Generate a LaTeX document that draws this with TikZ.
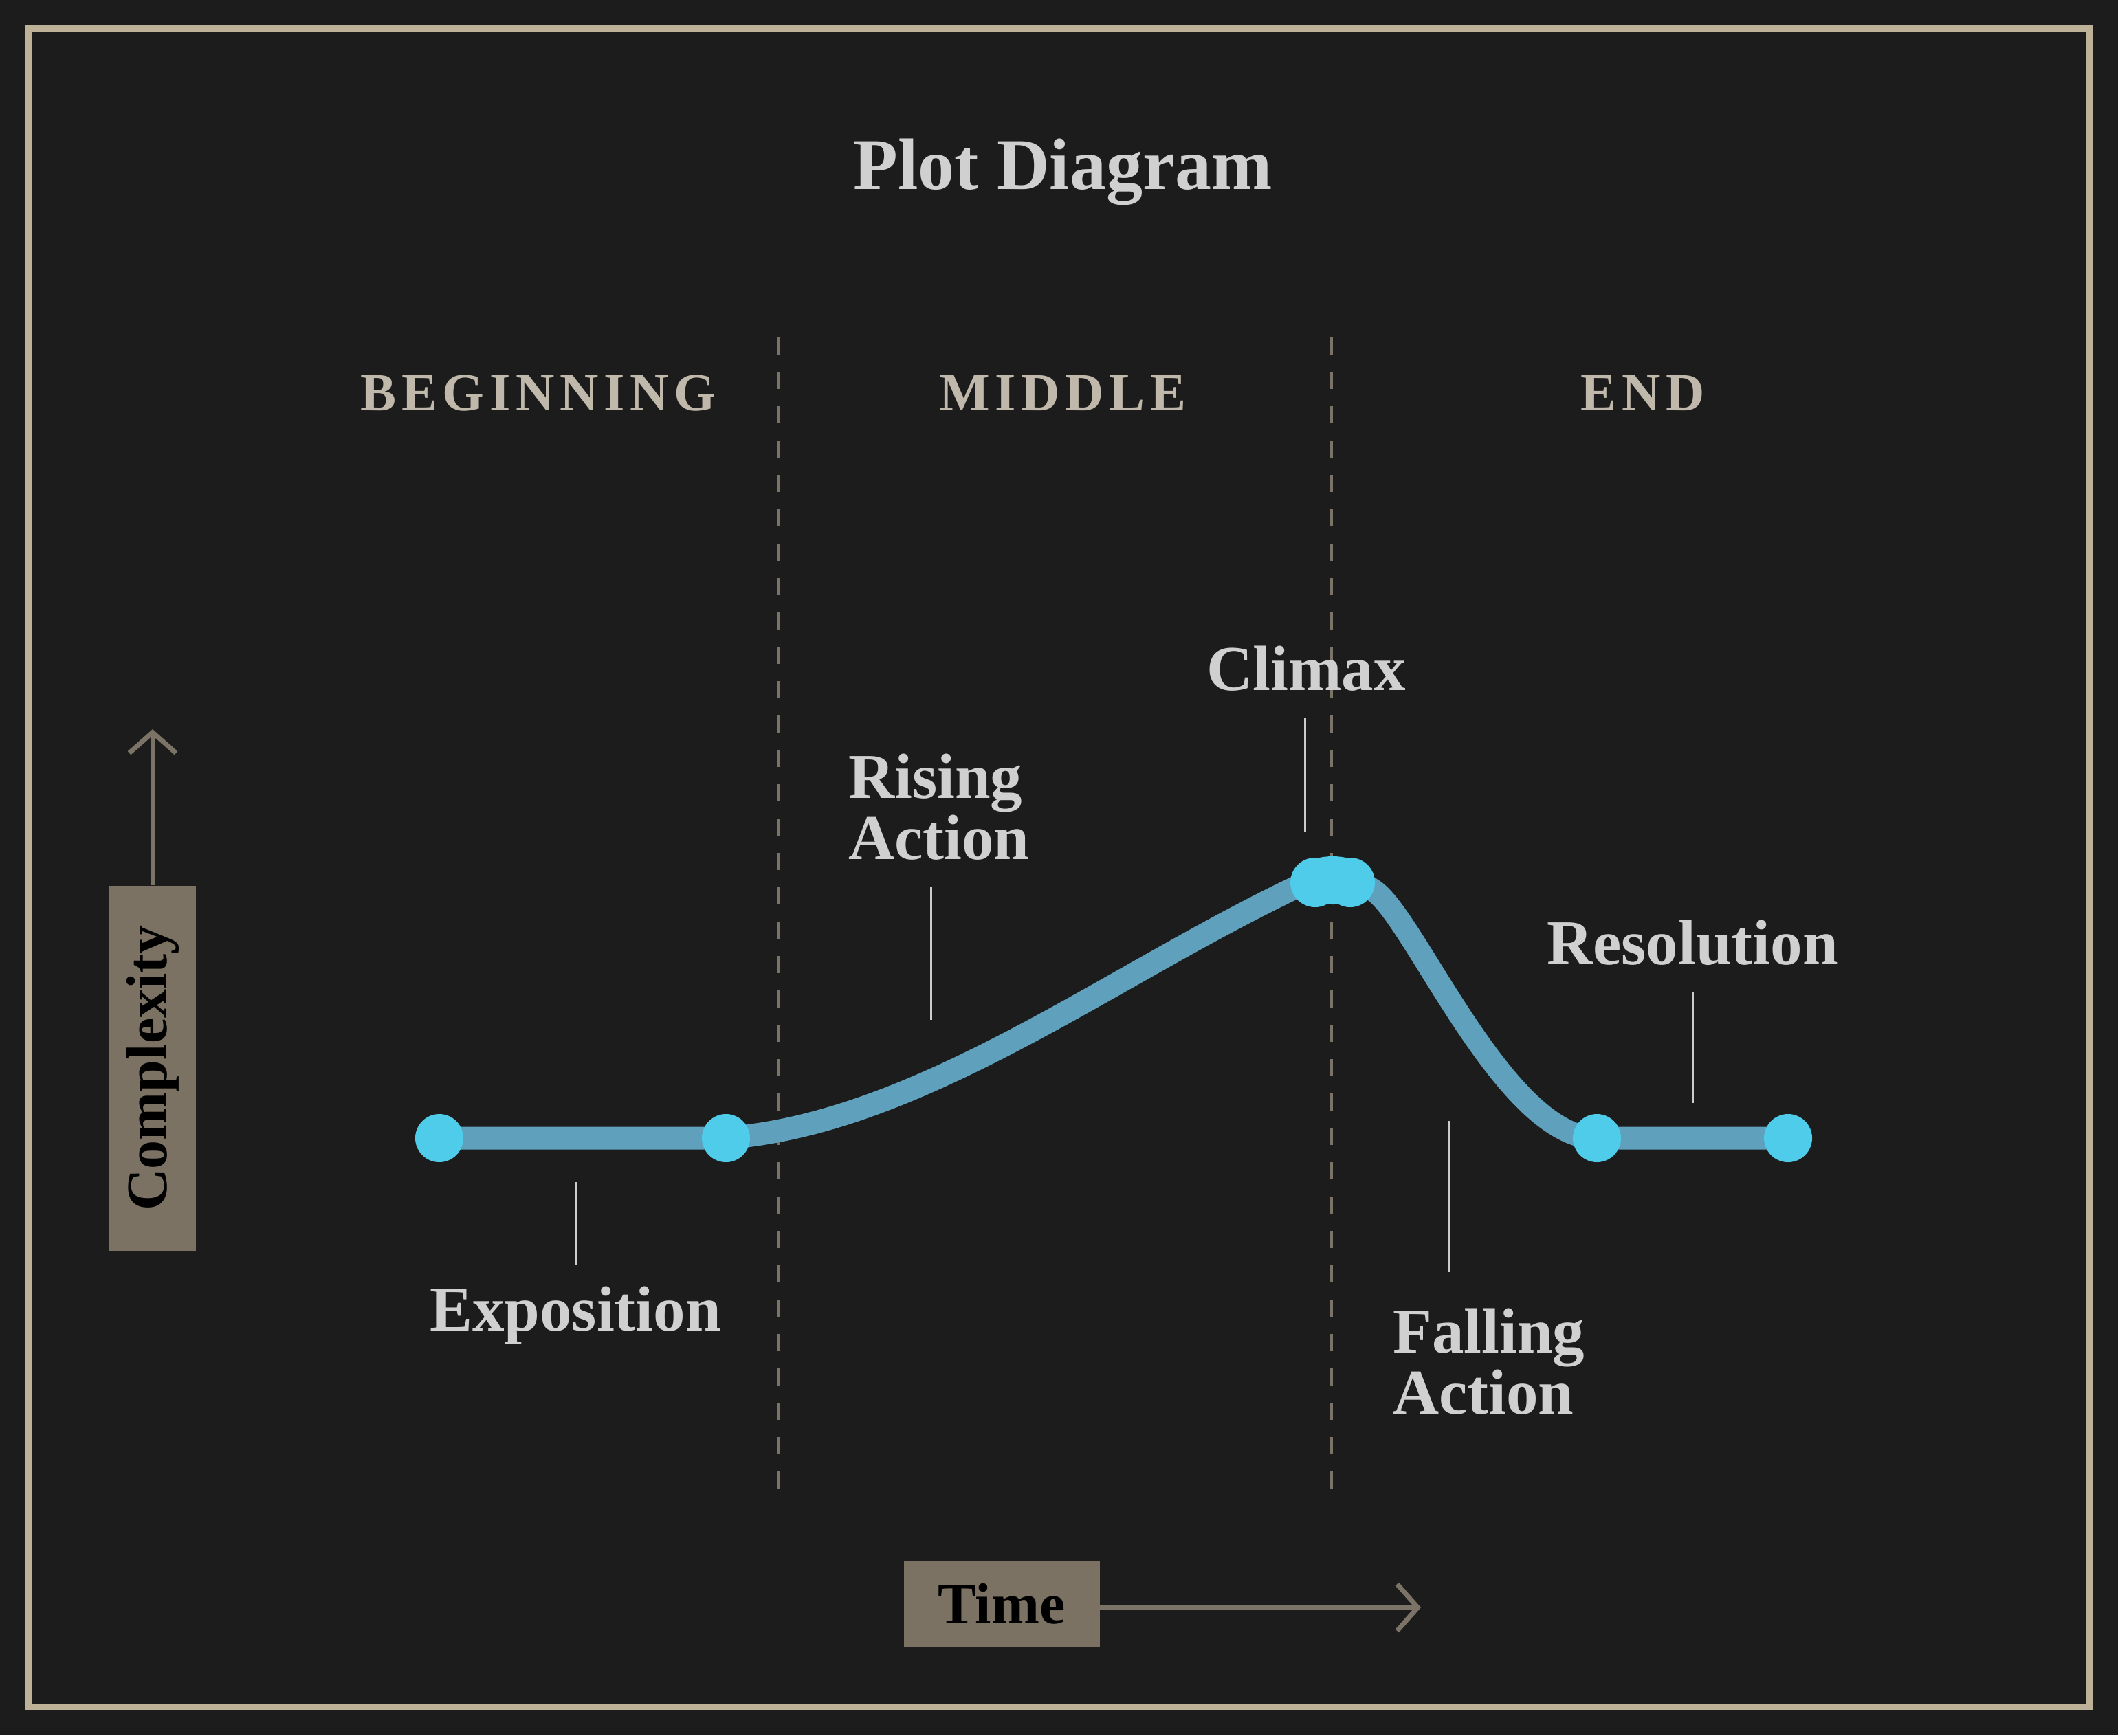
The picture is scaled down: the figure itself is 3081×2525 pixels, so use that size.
\documentclass[tikz,border=0pt]{standalone}
\usepackage{fontspec}
\setmainfont{Liberation Serif}
\usetikzlibrary{arrows.meta}
\definecolor{bgc}{HTML}{1C1C1C}
\definecolor{framec}{HTML}{BDB197}
\definecolor{secc}{HTML}{C0B9AB}
\definecolor{labc}{HTML}{D0D0D0}
\definecolor{tickc}{HTML}{CCCCCC}
\definecolor{dashc}{HTML}{7B7366}
\definecolor{boxc}{HTML}{7B7264}
\definecolor{curvec}{HTML}{5FA0BC}
\definecolor{dotc}{HTML}{4ECCE9}
\begin{document}
\begin{tikzpicture}[x=1pt,y=-1pt,
  sect/.style={text=secc,inner sep=0pt,anchor=base,font=\fontsize{78}{80}\selectfont\bfseries\addfontfeature{LetterSpace=10}},
  lab/.style={text=labc,inner sep=0pt,font=\fontsize{93}{89}\selectfont\bfseries},
  tick/.style={draw=tickc,line width=3pt},
  divider/.style={draw=dashc,line width=3.5pt,dash pattern=on 25pt off 25pt},
  plotline/.style={draw=curvec,line width=33pt,line join=round},
  dot/.style={circle,fill=dotc,minimum size=70pt,inner sep=0pt},
  axisbox/.style={fill=boxc,inner sep=0pt,text=black,font=\fontsize{84}{86}\selectfont\bfseries},
  axisarrow/.style={draw=dashc,line width=7pt,-{Straight Barb[length=30pt,width=68pt]}}]
\fill[bgc] (0,0) rectangle (3081,2525);
\useasboundingbox (0,0) rectangle (3081,2525);
\draw[framec,line width=9pt] (41.5,41.5) rectangle (3039.5,2483.5);

% title
\node[text=labc,inner sep=0pt,anchor=base,font=\fontsize{106}{110}\selectfont\bfseries] (title) at (1546,275) {Plot Diagram};

% sections
\node[sect] (beg) at (783,597) {BEGINNING};
\node[sect] (mid) at (1546,597) {MIDDLE};
\node[sect] (end) at (2390,597) {END};

% dividers
\coordinate (dv1a) at (1132,491); \coordinate (dv1b) at (1132,2167);
\coordinate (dv2a) at (1937,491); \coordinate (dv2b) at (1937,2167);
\draw[divider] (dv1a) -- (dv1b);
\draw[divider] (dv2a) -- (dv2b);

% plot curve
\coordinate (p1) at (639,1656);
\coordinate (p2) at (1056,1656);
\coordinate (pc1) at (1913,1284);
\coordinate (pc2) at (1964,1284);
\coordinate (p5) at (2323,1656);
\coordinate (p6) at (2601,1656);
\draw[plotline] (p1) -- (p2)
  .. controls (1336,1634) and (1607,1425) .. (1877,1295)
  .. controls (1920,1274) and (1960,1268) .. (2000,1297)
  .. controls (2060,1341) and (2190,1656) .. (p5) -- (p6);

% dots
\node[dot] (d1) at (p1) {};
\node[dot] (d2) at (p2) {};
\fill[dotc] (1938.5,1281) ellipse [x radius=58pt, y radius=35pt];
\node[dot,minimum size=72pt] (d3) at (pc1) {};
\node[dot,minimum size=72pt] (d4) at (pc2) {};
\node[dot] (d5) at (p5) {};
\node[dot] (d6) at (p6) {};

% labels
\node[lab,anchor=base] (expo) at (837,1936) {Exposition};
\node[lab,anchor=base west,align=left] (rise) at (1234,1250) {Rising\\Action};
\node[lab,anchor=base] (clim) at (1900,1004) {Climax};
\node[lab,anchor=base west,align=left] (fall) at (2026,2057) {Falling\\Action};
\node[lab,anchor=base] (reso) at (2462,1403) {Resolution};

% ticks
\coordinate (t1a) at (837,1720); \coordinate (t1b) at (837,1841);
\coordinate (t2a) at (1354,1291); \coordinate (t2b) at (1354,1484);
\coordinate (t3a) at (1898,1045); \coordinate (t3b) at (1898,1210);
\coordinate (t4a) at (2108,1631); \coordinate (t4b) at (2108,1851);
\coordinate (t5a) at (2462,1444); \coordinate (t5b) at (2462,1605);
\draw[tick] (t1a) -- (t1b);
\draw[tick] (t2a) -- (t2b);
\draw[tick] (t3a) -- (t3b);
\draw[tick] (t4a) -- (t4b);
\draw[tick] (t5a) -- (t5b);

% axes
\node[axisbox,rotate=90,minimum width=531pt,minimum height=126pt] (cbox) at (222,1554) {Complexity};
\coordinate (ctip) at (222,1061);
\draw[axisarrow] (cbox.east) -- (ctip);
\node[axisbox,minimum width=285pt,minimum height=124pt] (tbox) at (1457,2334) {Time};
\coordinate (ttip) at (2067,2339);
\draw[axisarrow] (tbox.east |- ttip) -- (ttip);
\end{tikzpicture}
\end{document}
